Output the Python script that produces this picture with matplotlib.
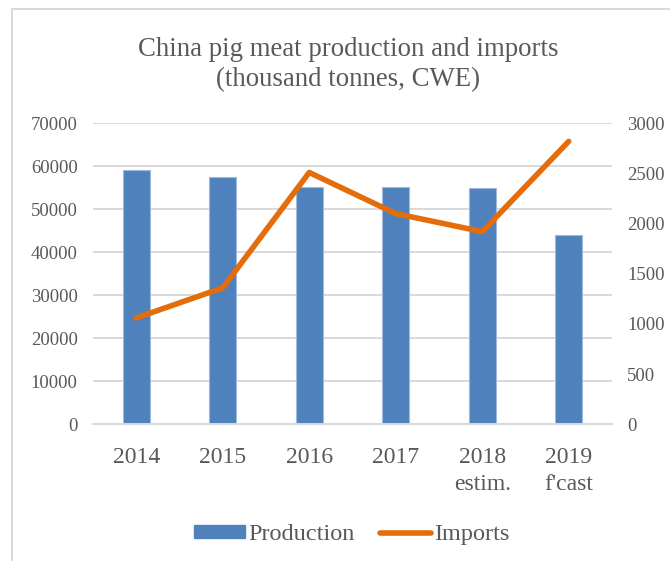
import matplotlib.pyplot as plt
import numpy as np
from matplotlib.patches import Rectangle
from matplotlib.lines import Line2D

# Chinese pig meat balance, thousand tonnes carcass weight equivalent
years = ['2014', '2015', '2016', '2017', '2018\nestim.', "2019\nf'cast"]
production = [59100, 57400, 55100, 55300, 54900, 44000]
imports = [1060, 1360, 2510, 2100, 1920, 2820]

grey = '#595959'
blue = '#4F81BD'
orange = '#E46C0A'

plt.rcParams['font.family'] = ['Liberation Serif', 'DejaVu Serif']

fig = plt.figure(figsize=(6.7, 5.61), dpi=100)
ax = fig.add_axes([0.1388, 0.2437, 0.7746, 0.5365])
ax2 = ax.twinx()

x = np.arange(len(years))
ax.bar(x, production, width=0.31, color=blue, edgecolor='#9DB9DD', linewidth=0.8, zorder=2)
ax2.plot(x, imports, color=orange, linewidth=4, solid_capstyle='round', solid_joinstyle='round', zorder=3)

ax.set_xlim(-0.5, len(years) - 0.5)
ax.set_ylim(0, 70000)
ax.set_yticks(np.arange(0, 70001, 10000))
ax2.set_ylim(0, 3000)
ax2.set_yticks(np.arange(0, 3001, 500))

ax.set_xticks(x)
ax.set_xticklabels(years, fontsize=17, color=grey, linespacing=1.4)
ax.yaxis.grid(True, color='#D9D9D9', linewidth=1.4, zorder=0)
ax.set_axisbelow(True)

for a in (ax, ax2):
    for s in a.spines.values():
        s.set_visible(False)
    a.tick_params(length=0, labelsize=13.5, labelcolor=grey, pad=11)
ax.tick_params(axis='x', labelsize=17, pad=16)
ax.spines['bottom'].set_visible(True)
ax.spines['bottom'].set_color('#D9D9D9')
ax.spines['bottom'].set_linewidth(1.4)

fig.text(0.52, 0.885, 'China pig meat production and imports\n(thousand tonnes, CWE)',
         ha='center', va='center', fontsize=19.3, color=grey, linespacing=1.28)

handles = [Rectangle((0, 0), 1, 1, color=blue),
           Line2D([0], [0], color=orange, linewidth=4, solid_capstyle='round')]
fig.legend(handles, ['Production', 'Imports'], loc='center', bbox_to_anchor=(0.525, 0.047),
           ncol=2, frameon=False, fontsize=17.5, labelcolor=grey,
           handlelength=2.1, handleheight=0.45, handletextpad=0.12, columnspacing=1.05)

# chart area border
fig.add_artist(Rectangle((12 / 670, -0.1), 1.2, 1 - 9 / 561 + 0.1, transform=fig.transFigure,
                         fill=False, edgecolor='#D9D9D9', linewidth=1.4))

fig.savefig('out.png', dpi=100)
